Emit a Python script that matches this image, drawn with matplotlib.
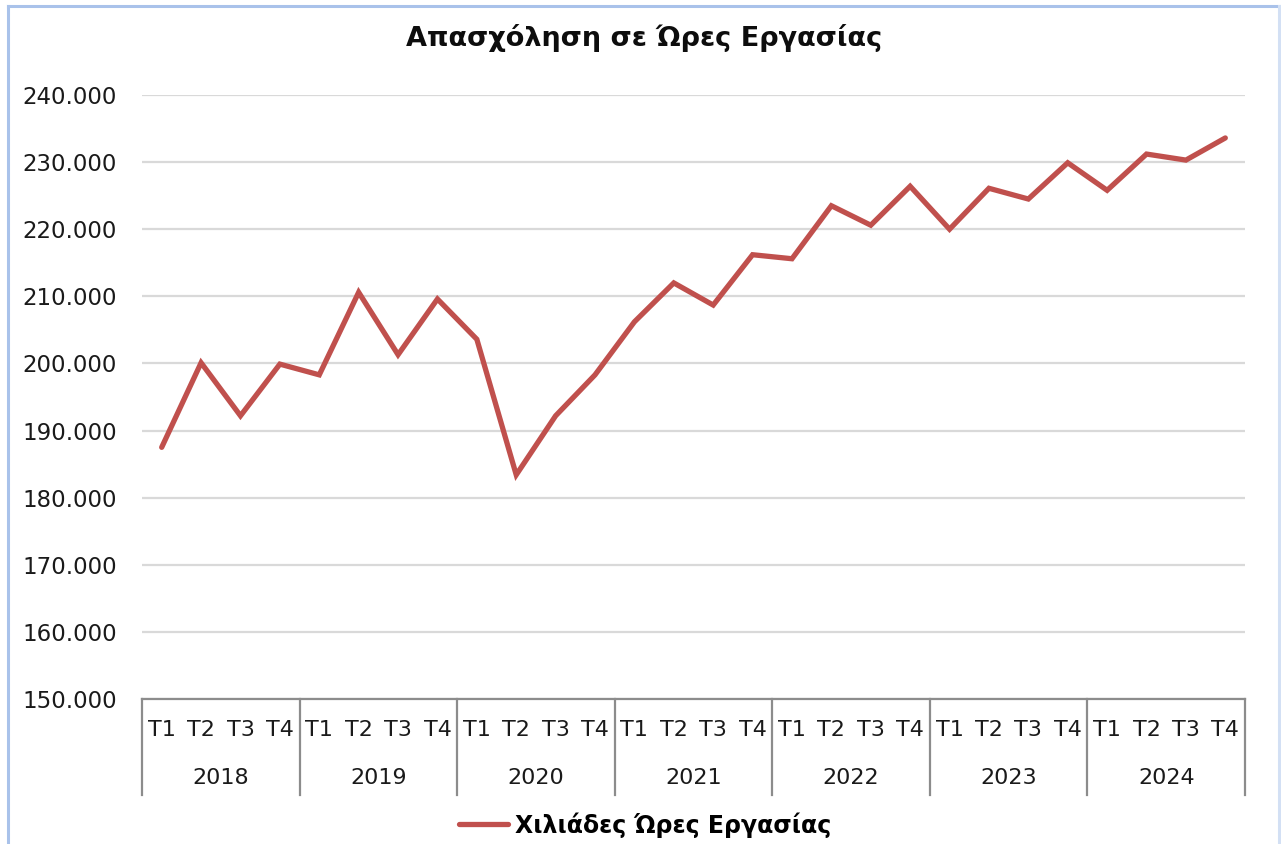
from matplotlib import pyplot as plt
from matplotlib.lines import Line2D
import matplotlib.ticker as mticker
import numpy as np

plt.rcParams['font.family'] = ['DejaVu Sans']

years = ['2018', '2019', '2020', '2021', '2022', '2023', '2024']
quarters = ['T1', 'T2', 'T3', 'T4']
# thousands of hours worked, per quarter
hours = [187500, 200100, 192200, 199900,
         198300, 210600, 201300, 209600,
         203600, 183400, 192200, 198300,
         206200, 212000, 208700, 216200,
         215600, 223500, 220600, 226400,
         220000, 226100, 224500, 229900,
         225800, 231200, 230300, 233600]

title = 'Απασχόληση σε Ώρες Εργασίας'
series_name = 'Χιλιάδες Ώρες Εργασίας'
line_color = '#C0504D'

W, H = 1281, 844
fig = plt.figure(figsize=(W / 100, H / 100), dpi=100)
ax = fig.add_axes([142 / W, 1 - 699 / H, (1245 - 142) / W, (699 - 95) / H])

x = np.arange(len(hours))
ax.plot(x, hours, color=line_color, linewidth=3.8, solid_joinstyle='miter',
        solid_capstyle='round', label=series_name, zorder=3)

ax.set_xlim(-0.5, len(hours) - 0.5)
ax.set_ylim(150000, 240000)
ax.yaxis.set_major_locator(mticker.MultipleLocator(10000))
ax.yaxis.set_major_formatter(
    mticker.FuncFormatter(lambda v, p: f'{v:,.0f}'.replace(',', '.')))
ax.grid(axis='y', color='#D9D9D9', linewidth=1.6, zorder=0)
ax.set_axisbelow(True)

for s in ['top', 'right', 'left']:
    ax.spines[s].set_visible(False)
ax.spines['bottom'].set_color('#8C8C8C')
ax.spines['bottom'].set_linewidth(1.6)

ax.tick_params(axis='y', length=0, pad=18, labelsize=16.5, labelcolor='#1a1a1a')
ax.set_xticks(x)
ax.set_xticklabels([q for y in years for q in quarters])
ax.tick_params(axis='x', length=0, pad=15, labelsize=16, labelcolor='#1a1a1a')

# year labels and separators under the quarters
trans = ax.get_xaxis_transform()
depth = 96 / (699 - 95)
for i, yr in enumerate(years):
    ax.text(i * 4 + 1.5, -79 / (699 - 95), yr, transform=trans,
            ha='center', va='center', fontsize=16, color='#1a1a1a')
for b in range(len(years) + 1):
    ax.plot([b * 4 - 0.5] * 2, [0, -depth], transform=trans, color='#8C8C8C',
            linewidth=1.6, clip_on=False)

fig.text(644 / W, 1 - 38 / H, title, ha='center', va='center',
         fontsize=19.5, fontweight='bold', color='#0d0d0d')

leg = fig.legend(loc='center', bbox_to_anchor=(645 / W, 1 - 825 / H),
                 frameon=False, handlelength=2.1, handletextpad=0.3,
                 prop={'size': 17, 'weight': 'bold'})

# chart border (Excel style)
fig.add_artist(Line2D([8 / W, 8 / W], [0, 1 - 6 / H], color='#A9C2EA', linewidth=2.2))
fig.add_artist(Line2D([8 / W, 1279 / W], [1 - 6 / H, 1 - 6 / H], color='#A9C2EA', linewidth=2.2))
fig.add_artist(Line2D([1279 / W, 1279 / W], [0, 1 - 6 / H], color='#D3E0F4', linewidth=2.2))

plt.savefig('out.png', dpi=100)
